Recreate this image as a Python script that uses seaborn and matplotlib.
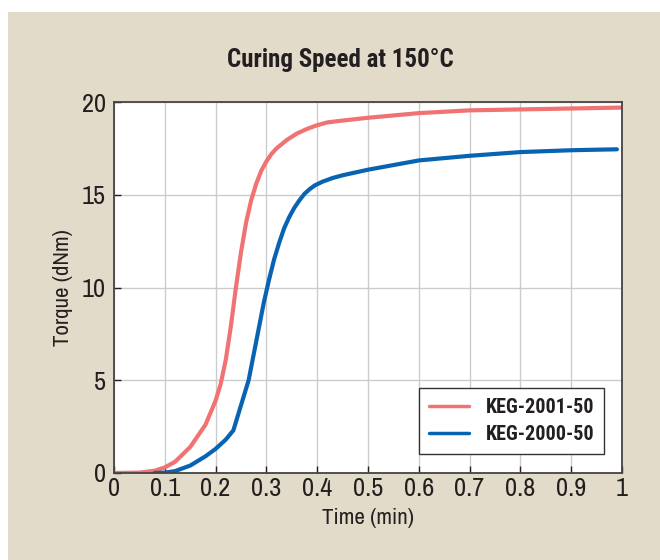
import matplotlib
matplotlib.use("Agg")
import matplotlib.pyplot as plt
import seaborn as sns
import pandas as pd
from matplotlib.patches import Rectangle

# values
time_2001 = [0, 0.05, 0.08, 0.1, 0.12, 0.15, 0.18, 0.2, 0.21, 0.22, 0.23, 0.24, 0.25,
             0.26, 0.27, 0.28, 0.29, 0.3, 0.31, 0.32, 0.34, 0.36, 0.38, 0.4, 0.42,
             0.45, 0.5, 0.6, 0.7, 0.8, 0.9, 1.0]
torque_2001 = [0, 0.02, 0.12, 0.3, 0.6, 1.4, 2.6, 3.9, 4.8, 6.1, 7.9, 10.0, 11.9,
               13.5, 14.7, 15.6, 16.3, 16.8, 17.2, 17.5, 17.95, 18.3, 18.55, 18.75, 18.9,
               19.0, 19.15, 19.4, 19.55, 19.6, 19.65, 19.7]

time_2000 = [0.08, 0.1, 0.12, 0.15, 0.18, 0.2, 0.22, 0.235, 0.245, 0.255, 0.265, 0.275,
             0.285, 0.295, 0.305, 0.315, 0.325, 0.335, 0.345, 0.355, 0.365, 0.375, 0.385,
             0.395, 0.41, 0.43, 0.45, 0.5, 0.6, 0.7, 0.8, 0.9, 0.99]
torque_2000 = [0, 0.02, 0.1, 0.4, 0.9, 1.3, 1.8, 2.3, 3.2, 4.1, 5.0, 6.4,
               7.8, 9.2, 10.4, 11.5, 12.4, 13.2, 13.8, 14.3, 14.7, 15.05, 15.3,
               15.5, 15.7, 15.9, 16.05, 16.35, 16.85, 17.1, 17.3, 17.4, 17.45]

series_names = ["KEG-2001-50", "KEG-2000-50"]
series_colors = ["#f07272", "#0864b2"]
x_ticks = [0, 0.1, 0.2, 0.3, 0.4, 0.5, 0.6, 0.7, 0.8, 0.9, 1]
x_tick_labels = ["0", "0.1", "0.2", "0.3", "0.4", "0.5", "0.6", "0.7", "0.8", "0.9", "1"]
y_ticks = [0, 5, 10, 15, 20]

df = pd.concat([
    pd.DataFrame({"Time": time_2001, "Torque": torque_2001, "Grade": series_names[0]}),
    pd.DataFrame({"Time": time_2000, "Torque": torque_2000, "Grade": series_names[1]}),
])

sns.set_theme(style="whitegrid")
plt.rcParams["font.family"] = ["Archivo Narrow", "DejaVu Sans"]
bold_family = ["Roboto Condensed", "Barlow Semi Condensed", "DejaVu Sans"]
ink = "#231f20"

fig = plt.figure(figsize=(6.6, 5.6), dpi=100, facecolor="white")
fig.patches.append(Rectangle((8 / 660, 0), 1, 1 - 12 / 560, transform=fig.transFigure,
                             facecolor="#e2dbc9", edgecolor="none", zorder=-10))
ax = fig.add_axes([114 / 660, 1 - 473 / 560, 508 / 660, 371 / 560])
ax.set_zorder(5)
ax.set_facecolor("white")

sns.lineplot(data=df, x="Time", y="Torque", hue="Grade", palette=series_colors,
             linewidth=3, ax=ax, legend=True)

ax.set_xlim(0, 1)
ax.set_ylim(0, 20)
ax.set_xticks(x_ticks)
ax.set_xticklabels(x_tick_labels)
ax.set_yticks(y_ticks)
ax.grid(True, color="#cccccc", linewidth=1)
for s in ax.spines.values():
    s.set_color("#444444")
    s.set_linewidth(1.3)
ax.tick_params(axis="both", direction="in", length=5, width=1, color=ink,
               labelsize=19, labelcolor=ink, left=True, bottom=True)
ax.tick_params(axis="x", pad=3)
ax.tick_params(axis="y", pad=6)

ax.set_xlabel("Time (min)", fontsize=16.5, color=ink, labelpad=6)
ax.set_ylabel("Torque (dNm)", fontsize=16.5, color=ink, labelpad=6)
fig.text(0.515, 1 - 60 / 560, "Curing Speed at 150\u00b0C", ha="center", va="center",
         fontsize=18, fontweight="bold", family=bold_family, color=ink)

leg = ax.legend(loc="lower right", bbox_to_anchor=(0.965, 0.051), borderaxespad=0,
                fancybox=False, framealpha=1, edgecolor="#333333", handlelength=2.0,
                prop={"weight": "bold", "size": 14.5, "family": bold_family},
                borderpad=0.5, labelspacing=0.4, handletextpad=0.8)
leg.get_frame().set_linewidth(1)
leg.set_title(None)
for line in leg.get_lines():
    line.set_linewidth(2.5)
for t in leg.get_texts():
    t.set_color(ink)

fig.savefig("out.png", dpi=100, facecolor=fig.get_facecolor())
